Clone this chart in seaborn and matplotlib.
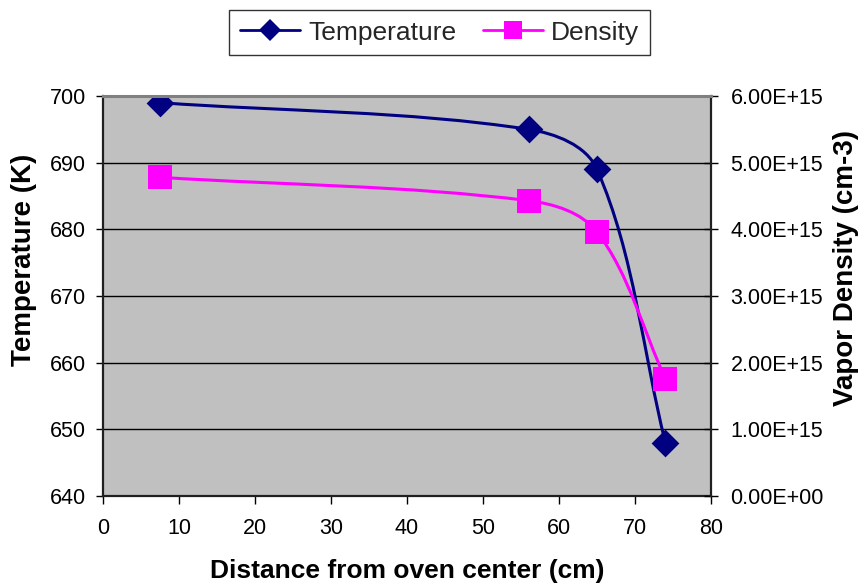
import numpy as np
import pandas as pd
import matplotlib
matplotlib.use("Agg")
import matplotlib.pyplot as plt
import seaborn as sns
from matplotlib.path import Path
from matplotlib.patches import PathPatch
from matplotlib.lines import Line2D

# Measurements along the oven
distance_cm = [7.5, 56.0, 65.0, 74.0]
temperature_k = [699.0, 695.0, 689.0, 648.0]
density_cm3 = [4.78e15, 4.43e15, 3.96e15, 1.76e15]

temp_ticks = [640, 650, 660, 670, 680, 690, 700]
dens_ticks = [0, 1e15, 2e15, 3e15, 4e15, 5e15, 6e15]
x_ticks = [0, 10, 20, 30, 40, 50, 60, 70, 80]

TEMP_COLOR = "#000080"
DENS_COLOR = "#FF00FF"

df = pd.DataFrame({"distance": distance_cm,
                   "temperature": temperature_k,
                   "density": density_cm3})

sns.set_theme(style="white")
plt.rcParams["font.family"] = ["Liberation Sans", "DejaVu Sans"]

fig = plt.figure(figsize=(8.64, 5.86), dpi=100)
ax = fig.add_axes([103 / 864, 1 - 496 / 586, 608 / 864, 400 / 586])
ax2 = ax.twinx()

ax.set_facecolor("#C0C0C0")
ax.set_xlim(0, 80)
ax.set_ylim(640, 700)
ax2.set_ylim(0, 6e15)


def smooth_path(axis, xs, ys, k=1.0 / 3.0):
    """Smoothed Bezier path through the points, shaped in screen space."""
    pts = axis.transData.transform(np.column_stack([xs, ys]).astype(float))
    n = len(pts)
    tang = []
    for i in range(n):
        a = pts[max(i - 1, 0)]
        b = pts[min(i + 1, n - 1)]
        d = b - a
        tang.append(d / np.hypot(*d))
    verts = [pts[0]]
    codes = [Path.MOVETO]
    for i in range(n - 1):
        seg = np.hypot(*(pts[i + 1] - pts[i]))
        c1 = pts[i] + tang[i] * seg * k
        c2 = pts[i + 1] - tang[i + 1] * seg * k
        verts += [c1, c2, pts[i + 1]]
        codes += [Path.CURVE4] * 3
    data_verts = axis.transData.inverted().transform(np.array(verts))
    return Path(data_verts, codes)


# Horizontal gridlines
for t in temp_ticks[1:-1]:
    ax.axhline(t, color="black", lw=1.0, zorder=1)

# Smoothed connecting lines
ax.add_patch(PathPatch(smooth_path(ax, df["distance"], df["temperature"]),
                       facecolor="none", edgecolor=TEMP_COLOR, lw=2.2, zorder=3))
ax2.add_patch(PathPatch(smooth_path(ax2, df["distance"], df["density"]),
                        facecolor="none", edgecolor=DENS_COLOR, lw=2.2, zorder=3))

# Markers
sns.scatterplot(data=df, x="distance", y="temperature", ax=ax, marker="D",
                s=200, color=TEMP_COLOR, edgecolor=TEMP_COLOR, linewidth=0,
                zorder=4, legend=False)
sns.scatterplot(data=df, x="distance", y="density", ax=ax2, marker="s",
                s=280, color=DENS_COLOR, edgecolor=DENS_COLOR, linewidth=0,
                zorder=4, legend=False)

ax2.patch.set_visible(False)

# Axes, ticks and labels
ax.set_xticks(x_ticks)
ax.set_yticks(temp_ticks)
ax2.set_yticks(dens_ticks)
ax2.set_yticklabels([f"{v:.2E}" for v in dens_ticks])
ax.set_xticklabels([str(v) for v in x_ticks])
ax.set_yticklabels([str(v) for v in temp_ticks])

for a in (ax, ax2):
    a.grid(False)
    for s in a.spines.values():
        s.set_visible(False)

ax.spines["left"].set_visible(True)
ax.spines["bottom"].set_visible(True)
ax2.spines["right"].set_visible(True)
ax2.spines["top"].set_visible(True)
ax.spines["left"].set_color("#202020")
ax.spines["bottom"].set_color("#202020")
ax2.spines["right"].set_color("#202020")
ax2.spines["top"].set_color("#808080")
ax.spines["left"].set_linewidth(1.6)
ax.spines["bottom"].set_linewidth(1.6)
ax2.spines["right"].set_linewidth(1.6)
ax2.spines["top"].set_linewidth(2.2)

ax.tick_params(axis="y", which="major", direction="out", length=5, width=1,
               color="black", labelsize=15.5, pad=7, left=True, right=False,
               labelcolor="black")
ax.tick_params(axis="x", which="major", direction="out", length=6, width=1,
               color="black", labelsize=15.5, pad=10, bottom=True,
               labelcolor="black")
ax2.tick_params(axis="y", which="major", direction="inout", length=10,
                width=1, color="black", labelsize=15.5, pad=9, right=True,
                left=False, labelcolor="black")

ax.set_xlabel("Distance from oven center (cm)", fontsize=19, fontweight="bold",
              labelpad=14, color="black")
ax.set_ylabel("Temperature (K)", fontsize=20, fontweight="bold",
              color="black")
ax2.set_ylabel("Vapor Density (cm-3)", fontsize=20, fontweight="bold",
               color="black")
ax.yaxis.set_label_coords((37 - 103) / 608, (496 - 260) / 400)
ax2.yaxis.set_label_coords((833 - 103) / 608, (496 - 268) / 400)

handles = [
    Line2D([], [], color=TEMP_COLOR, lw=2, marker="D", markersize=11,
           markeredgewidth=0),
    Line2D([], [], color=DENS_COLOR, lw=2, marker="s", markersize=13,
           markeredgewidth=0),
]
leg = fig.legend(handles, ["Temperature", "Density"], loc="upper center",
                 bbox_to_anchor=(439.5 / 864, 1 - 10 / 586), ncol=2,
                 fontsize=19, frameon=True, fancybox=False,
                 edgecolor="black", handlelength=2.3, columnspacing=1.0,
                 handletextpad=0.3, borderpad=0.4, borderaxespad=0)
leg.get_frame().set_linewidth(1.0)

fig.savefig("out.png", dpi=100, facecolor="white")
